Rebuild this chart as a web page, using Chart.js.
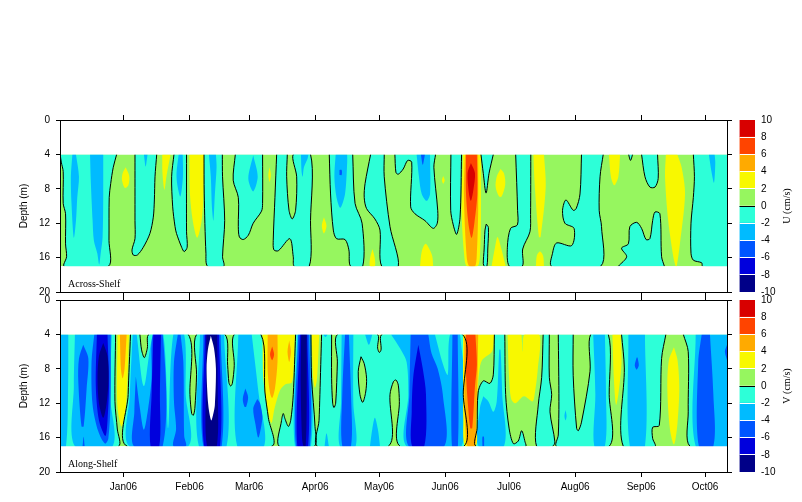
<!DOCTYPE html>
<html>
<head>
<meta charset="utf-8">
<style>
html, body { margin: 0; padding: 0; background: #fff; overflow: hidden; }
canvas { position: absolute; }
</style>
<script src="https://cdn.jsdelivr.net/npm/chart.js@4"></script>
</head>
<body>
<canvas id="acrossChart" style="left:0;top:110px" width="735" height="190"></canvas>
<canvas id="acrossBar" style="left:730px;top:110px" width="72" height="190"></canvas>
<canvas id="alongChart" style="left:0;top:290px" width="735" height="212"></canvas>
<canvas id="alongBar" style="left:730px;top:290px" width="72" height="212"></canvas>
<script>
// x values are days from 1 Jan 2006, y values are depth in m
const monthDays = [0, 31, 59, 90, 120, 151, 181, 212, 243, 273];
const monthLabels = ["Jan06", "Feb06", "Mar06", "Apr06", "May06", "Jun06", "Jul06", "Aug06", "Sep06", "Oct06"];
const depthTicks = [0, 4, 8, 12, 16, 20];
const colorLevels = [-10, -8, -6, -4, -2, 0, 2, 4, 6, 8, 10];
const colorBands = ["#000088", "#0000dd", "#0055ff", "#00bbff", "#2dffd8", "#96f65f", "#f8f800", "#ffaa00", "#ff4400", "#d80000"];
const wholeRecord = [[-29.8, 4], [283.4, 4], [283.4, 17], [-29.8, 17]];
const blankAbove = [[-29.8, 0], [283.4, 0], [283.4, 4], [-29.8, 4]];
const blankBelow = [[-29.8, 17], [283.4, 17], [283.4, 20], [-29.8, 20]];

// Across-Shelf contours
const acrossBelow0 = [
  [[-29.7,4],[-29.2,4.9],[-28.3,6],[-28.3,9.7],[-27.2,10.9],[-27.2,14.4],[-26.7,15.9],[-27.8,17],[-7.1,17],[-6.8,14],[-6.7,9],[-6,7.4],[-4.8,5.5],[-3.2,4]],
  [[5.4,4],[5.4,11.7],[5.4,13.8],[4,15.1],[4.6,15.7],[6.5,15.7],[9.3,14.8],[12.4,13.2],[14,11.3],[14.5,9.3],[14.8,6.6],[15.6,4]],
  [[23.7,4],[22.6,6.6],[23.1,10.1],[24.2,12.4],[24.9,13.2],[27.3,14.8],[28.5,15.3],[29.9,14.8],[29.6,13],[29.6,4]],
  [[37.8,4],[37.9,8.6],[38.7,15.5],[39.5,17],[47,17],[46.5,15.9],[47.5,11.7],[46.5,6.6],[46.4,4]],
  [[52.5,4],[51.5,7],[53.9,9],[53.9,12.4],[54.4,13.6],[56.2,13.9],[58.6,13.4],[60.9,12],[64.8,10.6],[65.3,9.7],[65.3,4]],
  [[71.9,4],[71.1,9],[70.3,14],[70.6,15.1],[72.7,15.2],[78.1,13.8],[79.7,15.9],[80.2,17],[87.2,17],[87.8,11.7],[87.8,4],[79.7,4],[81.3,6.6],[80.8,10.5],[79.2,11.5],[77.7,10.5],[76.6,6.6],[76.9,4]],
  [[96.6,4],[97.2,8.6],[98.5,12.8],[100,13.8],[104,13.9],[105.8,15.1],[106.6,17],[112.3,17],[112,12],[108.7,9.7],[107.6,4]],
  [[116,4],[113.4,7.4],[113,9],[114.1,10.3],[118,11.5],[120.4,12.8],[121.2,17],[129,17],[125.1,12.4],[122.4,6.6],[122.4,4]],
  [[127.4,4],[127.9,6.1],[129,6.3],[131.3,5.7],[133.4,4.7],[135.3,4.9],[134.8,10.1],[136.8,10.9],[141.5,11.7],[145.4,12.6],[147.3,12],[147.5,10.5],[145.7,5.5],[146.5,4]],
  [[153.7,4],[153.6,10.5],[154.8,12.2],[156.4,13.3],[158,11.3],[158.7,4]],
  [[167.8,4],[168.9,6.2],[170.2,8.5],[171.6,6.2],[173.6,4]],
  [[170.3,12.1],[169.7,12.8],[169.3,15],[168.9,16.7],[169.4,17],[170.6,17],[171,15],[171.3,12.5],[170.3,12.1]],
  [[184.1,4],[185,10.5],[184.9,12.2],[181.7,12.6],[180.2,14.8],[181.1,17],[187.2,17],[187.4,15],[190.8,13],[191.1,11],[191.2,4]],
  [[215,4],[214.3,8.6],[212.5,10.3],[211.1,10.5],[207.7,9.3],[206.1,10.5],[207.2,12],[211.5,12.6],[210.4,14.6],[203.3,14.3],[201.4,15.5],[201,17],[224,17],[224.4,12.4],[223.3,10.5],[223.7,6.6],[225.2,4]],
  [[237.1,4],[238,4.7],[239,4]],
  [[243.2,4],[244.8,6.6],[247.1,7.8],[249.5,7.8],[251,6.8],[250.7,4]],
  [[232.3,17],[236.2,15.9],[233.8,14.9],[237,14.4],[237.7,12.4],[240.9,11.9],[243.2,12.6],[245.3,13.9],[247.1,13.8],[248.4,11.7],[249.5,10.7],[251.8,10.9],[252.6,15.9],[253.9,17]],
  [[267.5,4],[268,6.6],[267.5,9],[266.4,12],[266.4,15.5],[267.5,16.3],[271.4,16.6],[271.9,17],[283.4,17],[283.4,4]]
];
const acrossBelow2 = [
  [[-24,4],[-24.7,6.6],[-24.4,9.7],[-23.3,13.7],[-22.3,11.7],[-21.7,9],[-20.9,6.6],[-22.3,4]],
  [[-15.7,4],[-15.3,7.4],[-14.5,11.7],[-13.9,14],[-12.3,15.5],[-11.4,16.8],[-10.7,15.5],[-9.8,13.6],[-9.5,8.6],[-9.5,4]],
  [[9.6,4],[10.4,5.4],[11.3,4]],
  [[25.9,4],[24.9,6.2],[25.3,7.6],[26.7,8.9],[27.9,6.6],[27.8,4]],
  [[40.1,4],[41,6.6],[41.5,10.1],[42.2,11.7],[42.9,8.6],[43.7,5.5],[43.4,4]],
  [[60.9,4.1],[58.6,6.8],[60.9,8.3],[63,6.6],[60.9,4.1]],
  [[83.3,4],[83.6,6],[84.1,6.6],[84.7,5.5],[86.4,4.5],[86.8,4]],
  [[99.6,4],[99,6.6],[100,9],[101.8,10.2],[104,8.6],[105,5],[105,4]],
  [[137.6,4],[138.7,6.6],[140,8.6],[142.3,9.4],[143.9,8.6],[143.9,4]],
  [[274.8,4],[276,6],[277.2,7.3],[277.8,5],[277.5,4]]
];
const acrossBelow4 = [
  [[101.4,5.8],[102.4,5.8],[102.4,6.4],[101.4,6.4]],
  [[139.6,4],[140.5,5.2],[141.5,4]]
];
const acrossAbove2 = [
  [[1,5.5],[-.4,6.2],[-.7,7],[.7,7.9],[2.3,7.6],[2.7,6.5],[1,5.5]],
  [[18.2,4],[18.3,6.2],[19.2,8.1],[20.2,6.5],[22.1,4]],
  [[30.9,4],[31.2,8.6],[32.5,11.7],[34.6,13.7],[36.7,11.7],[37.5,8.6],[37.8,4]],
  [[68.6,5.5],[68,6.4],[68.6,7.2],[69.2,6.4],[68.6,5.5]],
  [[94.1,11.3],[93.1,12.3],[94.1,13.2],[95.3,12.3],[94.1,11.3]],
  [[116.9,15],[115.8,16],[115.7,17],[118,17],[117.9,16],[116.9,15]],
  [[150.1,6.5],[149.5,7],[150.1,7.4],[150.8,7],[150.1,6.5]],
  [[139.2,17],[140,15.3],[141.8,14.4],[144,15.2],[145,15.9],[145.4,17]],
  [[159.4,4],[158.7,10.5],[160,15.9],[161.2,17],[166.2,17],[167.3,15.9],[167.8,11.3],[167.8,4]],
  [[177,5.7],[175.2,6.6],[174.7,7.8],[176.3,8.9],[177.5,8.9],[179.2,7.5],[178.6,6.2],[177,5.7]],
  [[172.8,17],[174.4,14.8],[175.6,13.6],[177.5,15.1],[179.4,17]],
  [[192.4,4],[193.1,7.8],[195,13.6],[195.8,13.6],[198.2,7.8],[197.4,4]],
  [[193.6,17],[194,15.8],[195.5,15.3],[197,15.8],[197.4,17]],
  [[227.9,4],[228.8,6.6],[230.4,7.6],[232.3,6.6],[233.1,4]],
  [[254.6,4],[254.2,6.6],[255.7,11.7],[258.1,15.9],[259.2,17],[259.7,17],[261.2,14.4],[263.6,8.6],[262,5.5],[260,4]]
];
const acrossAbove4 = [
  [[160.3,4],[159.8,8.6],[161.1,15.9],[162.3,17],[165,17],[165.8,15.9],[166.5,10.5],[166.5,4]]
];
const acrossAbove6 = [
  [[160.8,4],[160.8,8.6],[161.9,12],[163.4,13.7],[164.7,12],[166.1,8.6],[165.9,4]]
];
const acrossAbove8 = [
  [[163.1,5],[161.5,6.2],[162.2,8.6],[163.1,9.4],[164.2,8.2],[165,6.2],[163.1,5]]
];

// Along-Shelf contours
const alongBelow0 = [
  [[-29.8,4],[-29.8,17],[-2.4,17],[-2.9,15],[-4,11.8],[-3.7,4]],
  [[3.3,4],[2.2,11],[1.8,17],[69.5,17],[68,13.7],[66.4,10.7],[64.5,4],[52,4],[52,7.6],[51.1,9.7],[50.3,10],[49.5,9.6],[48.9,7.6],[47.6,4],[34.3,4],[34.3,8.7],[33.5,12.6],[32.8,13.4],[32,13.2],[31.2,11],[30.4,4],[12,4],[11.2,5.6],[9.8,6.7],[8.5,5.8],[7.7,4]],
  [[80.8,4],[79.7,11],[78.5,14],[77.4,14.7],[75.8,13.8],[75,13.2],[74.2,14],[73.1,17],[89.6,17],[89.9,14.7],[88.3,9.1],[88,4]],
  [[93,4],[92.2,11],[91.8,14],[91.1,17],[124.3,17],[125.1,11],[126.7,9.5],[127.9,9.3],[129,9.9],[129.5,11.8],[129.8,17],[159.8,17],[159.5,11],[159,4],[121.5,4],[120.9,5.8],[120.1,6.1],[119.3,5.6],[119.1,4],[100.5,4],[100.4,7.2],[99.6,12],[98.8,12.5],[98.2,12],[97.7,9.1],[97.7,4]],
  [[174.1,4],[173.6,8.7],[172,9.7],[168.9,9.4],[166.5,10.7],[166,14.9],[165.5,17],[188.8,17],[188.5,16.5],[186.9,15.2],[185.3,16.4],[183,16.7],[181,14.9],[179.4,11],[179,4]],
  [[197,4],[196.3,9],[194.7,12.2],[193.9,17],[201.4,17],[202.5,16.5],[200.2,13],[201,11],[199.9,9],[199.9,4]],
  [[204.1,4],[204.4,11.8],[204.1,15.7],[203.3,17],[228,17],[228,11],[227.6,4],[219.3,4],[219,8.3],[215,14.2],[213.5,15.2],[212.7,14.9],[211.1,8.8],[211.1,4]],
  [[233.8,4],[235.1,7.9],[234.6,17],[249.5,17],[248.4,16.1],[248.4,14.8],[251.5,14.6],[252.6,6.8],[254.6,4]],
  [[262.8,4],[265.1,6],[265.1,13],[265.9,17],[283.4,17],[283.4,4]]
];
const alongIsland = [
  [[111.5,6.6],[110.2,8.3],[111,11],[112.3,11.9],[113.7,10.7],[114.1,9.1],[113,7.4],[111.5,6.6]]
];
const alongBelow2 = [
  [[-29.8,4],[-29.8,17],[-27,17],[-26,10],[-25.9,4]],
  [[-22.8,4],[-23.3,10],[-22.8,17],[-5.1,17],[-6.4,11],[-5.5,4]],
  [[4.3,4],[3,11],[2.7,17],[30.4,17],[29.2,11],[28.5,4],[23.4,4],[21,14.9],[18.7,4],[14,4],[9.6,10],[6.2,4]],
  [[35.9,4],[35.4,17],[48.4,17],[47.2,4]],
  [[53.9,4],[53.4,17],[66,17],[63.5,11],[60.2,4]],
  [[81.6,4],[80.5,17],[88,17],[88,4]],
  [[93.8,4],[94.8,4.3],[95.8,4]],
  [[94.4,17],[95.3,15.5],[96.4,17]],
  [[102.4,4],[102.1,12],[101.6,17],[109,17],[107.9,12],[107.9,4]],
  [[113.4,4],[115.2,5.2],[116.8,4]],
  [[115.7,17],[116.8,15],[118,13.7],[119.4,15],[120.4,17]],
  [[125.6,4],[129.8,5.6],[132.9,7.2],[133.7,11],[132.9,17],[158.7,17],[158,4],[153.3,4],[152.2,8.7],[150,7.5],[146.2,4]],
  [[168.9,11.2],[167.3,12.6],[166.7,17],[178.6,17],[177.8,11],[177,5.8],[176.4,5.8],[175.2,11.8],[173.6,13],[171.3,11.8],[168.9,11.2]],
  [[207.5,12.8],[207,13.5],[207.5,14],[208,13.5],[207.5,12.8]],
  [[220.5,4],[221.5,11],[221,17],[226,17],[226.5,11],[226,4]],
  [[237,4],[237.7,17],[244.8,17],[244.8,4]],
  [[268.6,4],[268.6,17],[283.4,17],[283.4,4]]
];
const alongBelow4 = [
  [[-18.9,5.2],[-20.9,6.8],[-21.2,9.5],[-19.7,14.7],[-18.7,14.7],[-17.3,10.3],[-16.5,6.8],[-18.9,5.2]],
  [[-19.2,17],[-18.7,15.9],[-18.2,17]],
  [[-13.7,4],[-15,7.2],[-14.5,12.2],[-11.8,15.3],[-8.7,16.7],[-7.1,16.1],[-6,11.2],[-6,4]],
  [[5.8,8.9],[5.1,13],[4.9,17],[18.4,17],[18.4,4],[13.7,4],[13.2,9.1],[11.6,12.6],[9.6,15.1],[7.7,12.6],[5.8,8.9]],
  [[25.5,4],[23.7,7.2],[23.7,11.8],[24.7,15],[23.4,17],[29.3,17],[28.5,15.8],[28.1,7.2],[26.8,4]],
  [[37.5,4],[37.5,17],[46.1,17],[45.6,4]],
  [[57.2,10.3],[56,11.5],[56.8,12.4],[57.6,12.4],[58.5,11.3],[57.2,10.3]],
  [[62.8,11.5],[60.9,12.6],[62,14.5],[63.3,16],[64.8,14.5],[65.2,13.5],[64.1,12],[62.8,11.5]],
  [[82,4],[81,17],[87.5,17],[87.2,4]],
  [[104,4],[102.7,11],[102.7,17],[106.8,17],[106.8,11],[105.8,4]],
  [[134.8,4],[134.2,11],[133.9,17],[150.6,17],[149.9,11],[147.5,8],[144.6,6.2],[143.1,4]],
  [[154.4,4],[154.2,17],[157,17],[156.9,4]],
  [[168.5,17],[168.5,15.9],[169.2,15.9],[169.3,17]],
  [[240.9,6.7],[240,7.6],[240.9,8.1],[241.9,7.6],[241.3,6.7]],
  [[271.4,4],[269.8,7.2],[270.1,17],[276.9,17],[276.9,11],[275.3,4]],
  [[283.3,5.2],[282.3,6],[283.3,7]]
];
const alongBelow6 = [
  [[-12.5,4],[-13,10],[-11.5,14],[-8.5,15.8],[-7.5,14],[-6.8,10],[-7.5,4]],
  [[14,4],[13.2,11],[12.7,17],[16.8,17],[17.1,11],[17.6,4]],
  [[38.2,4],[37.9,17],[45.3,17],[44.8,4]],
  [[82.8,4],[81.6,17],[86.7,17],[86.3,4]],
  [[138.4,5.2],[136,9],[135.3,13],[135.5,17],[141.2,17],[142,11],[140.5,8],[138.4,5.2]]
];
const alongBelow8 = [
  [[-9.5,5],[-11.5,6.5],[-12.2,9],[-11.5,12],[-9.5,13.7],[-7.9,12],[-7,9],[-7.5,6.5],[-9.5,5]],
  [[38.9,4],[38.7,10],[39.2,17],[43.8,17],[44.2,10],[44,4]],
  [[83.4,4],[83.2,10],[83.8,16],[84.5,17],[85.5,17],[86,12],[86,4]]
];
const alongBelow10 = [
  [[41,4.15],[39.6,5.8],[39,8],[39.8,12.2],[41.2,14],[42.2,13.2],[42.9,12.2],[43.4,8],[42.5,5.6],[41,4.15]]
];
const alongAbove2 = [
  [[-2.8,4],[-2.9,12.2],[-.9,14.7],[1.2,12.2],[2.6,4]],
  [[65.3,4],[65.6,9],[67.2,12],[69.4,14.3],[71,12.5],[73.5,10.5],[76,9.8],[79,9.6],[80,7],[80.4,4]],
  [[88.4,4],[89,9],[89.9,10.2],[90.9,9],[91.9,4]],
  [[159.4,4],[159.5,14],[160.3,17],[165.5,17],[165.7,14],[166.4,10],[167,8.3],[168.3,7],[173,6],[174,4]],
  [[180.3,4],[181,9],[182,11.5],[184,12],[188,11.2],[192,11.8],[193,11],[194.5,8],[195.2,4],[188.2,4],[187.5,6],[186.8,4]],
  [[229.5,4],[230.2,9.1],[231.2,12.2],[232.3,11],[233.8,7.2],[233.4,4]],
  [[258.4,5.5],[256,7],[255.3,10.3],[256.5,15],[258.4,16.8],[260,14.5],[260.9,10.3],[260.1,7],[258.4,5.5]]
];
const alongAbove4 = [
  [[-1.7,4],[-1.2,8],[-.4,9.1],[.5,8],[1.5,4]],
  [[67.7,4],[67.7,8.3],[68.7,10.7],[69.8,11.4],[71.1,10.3],[72.3,7.2],[72.3,4]],
  [[77.8,4.7],[77,6],[77.8,7.2],[78.6,6],[77.8,4.7]],
  [[160,4],[160,11],[160.5,15],[161.5,17],[165,17],[165.5,14],[166.2,9],[166.5,4]]
];
const alongAbove6 = [
  [[69.8,5.4],[68.8,6.3],[69.8,7],[70.7,6.3],[69.8,5.4]],
  [[160.8,4],[160.8,8.5],[161.8,12.5],[162.8,14.9],[163.7,14.9],[165,10],[165.9,7.5],[165.2,4]]
];

const toPoints = poly => poly.map(p => ({ x: p[0], y: p[1] }));
const curve = 0.3;

function fillSet(poly, color, tension) {
  return { data: toPoints(poly), showLine: true, fill: 'shape', backgroundColor: color, borderWidth: 0, pointRadius: 0, tension: tension };
}

// zero contour, no line along the top and bottom of the data block
function contourSet(poly) {
  return {
    data: toPoints(poly), showLine: true, fill: false, borderColor: '#000', borderWidth: 1, pointRadius: 0, tension: curve,
    segment: {
      borderColor: ctx => {
        const a = ctx.p0.parsed, b = ctx.p1.parsed;
        const onEdge = a.y === b.y && (a.y === 4 || a.y === 17);
        const onSide = a.x === b.x && (a.x <= -29.8 || a.x >= 283.4);
        return onEdge || onSide ? 'transparent' : '#000';
      }
    }
  };
}

function buildDatasets(layers, contours) {
  const sets = [fillSet(wholeRecord, colorBands[5], 0)];
  layers.forEach(l => l[0].forEach(poly => sets.push(fillSet(poly, l[1], curve))));
  contours.forEach(poly => sets.push(contourSet(poly)));
  sets.push(fillSet(blankAbove, '#fff', 0), fillSet(blankBelow, '#fff', 0));
  // later layers go on top
  sets.forEach((s, i) => { s.order = sets.length - i; });
  return sets;
}

const panelLabel = {
  id: 'panelLabel',
  afterDraw(chart, args, opts) {
    const c = chart.ctx;
    c.save();
    c.font = '10px "Liberation Serif"';
    c.fillStyle = '#000';
    c.textBaseline = 'middle';
    c.fillText(opts.text, chart.chartArea.left + 8, chart.chartArea.bottom - 8);
    c.restore();
  }
};

// colour bar title reads upward, axis title on the right would read downward
const barTitle = {
  id: 'barTitle',
  afterDraw(chart, args, opts) {
    const c = chart.ctx;
    c.save();
    c.translate(57, (chart.chartArea.top + chart.chartArea.bottom) / 2);
    c.rotate(-Math.PI / 2);
    c.font = '10px "Liberation Serif"';
    c.fillStyle = '#000';
    c.textAlign = 'center';
    c.textBaseline = 'middle';
    c.fillText(opts.text, 0, 0);
    c.restore();
  }
};

// scales ask for room around their first and last labels, the layout here is fixed
function dropPadding(s) {
  s.paddingTop = s.paddingBottom = s.paddingLeft = s.paddingRight = 0;
}

function panel(id, layers, contours, name, showDates, bottomSpace) {
  const sansFont = { family: '"Liberation Sans"', size: 10 };
  const monthAxis = (position, showLabels, size) => ({
    type: 'linear', position: position, min: -29.8, max: 283.3,
    afterBuildTicks: s => { s.ticks = monthDays.map(d => ({ value: d })); },
    afterFit: s => { s.height = size; dropPadding(s); },
    border: { color: '#000', z: 1 },
    grid: { drawOnChartArea: false, color: '#000', tickLength: 5 },
    ticks: {
      display: showLabels, autoSkip: false, maxRotation: 0, padding: 4, color: '#000', font: sansFont,
      callback: v => monthLabels[monthDays.indexOf(v)]
    }
  });
  const depthAxis = (position, showLabels, size, tick) => ({
    type: 'linear', position: position, reverse: true, min: 0, max: 20,
    afterBuildTicks: s => { s.ticks = depthTicks.map(d => ({ value: d })); },
    afterFit: s => { s.width = size; dropPadding(s); },
    border: { color: '#000', z: 1 },
    grid: { drawOnChartArea: false, color: '#000', tickLength: tick },
    ticks: { display: showLabels, padding: 6, color: '#000', font: sansFont }
  });
  const left = depthAxis('left', true, 60, 4);
  left.title = { display: true, text: 'Depth (m)', color: '#000', font: sansFont, padding: { top: 18, bottom: 0 } };
  return new Chart(document.getElementById(id), {
    type: 'scatter',
    data: { datasets: buildDatasets(layers, contours) },
    plugins: [panelLabel],
    options: {
      responsive: false, animation: false, events: [],
      layout: { padding: 0, autoPadding: false },
      plugins: { legend: { display: false }, tooltip: { enabled: false }, panelLabel: { text: name } },
      scales: {
        x: monthAxis('bottom', showDates, bottomSpace),
        xTop: monthAxis('top', false, 10),
        y: left,
        yRight: depthAxis('right', false, 8, 5)
      }
    }
  });
}

function colorBar(id, title, bottomSpace) {
  const bands = colorBands.map((c, i) => ({
    data: [[colorLevels[i], colorLevels[i + 1]]], backgroundColor: c, borderWidth: 0,
    barPercentage: 1, categoryPercentage: 1, grouped: false
  }));
  return new Chart(document.getElementById(id), {
    type: 'bar',
    data: { labels: [''], datasets: bands },
    plugins: [barTitle],
    options: {
      responsive: false, animation: false, events: [],
      layout: { padding: { left: 9.5, top: 10, bottom: bottomSpace }, autoPadding: false },
      plugins: { legend: { display: false }, tooltip: { enabled: false }, barTitle: { text: title } },
      scales: {
        x: { display: false },
        y: {
          position: 'right', min: -10, max: 10,
          afterBuildTicks: s => { s.ticks = colorLevels.map(v => ({ value: v })); },
          afterFit: s => { s.width = 47; dropPadding(s); },
          border: { display: false },
          grid: {
            z: 1, drawTicks: false,
            color: c => c.tick.value === 0 ? '#000' : (Math.abs(c.tick.value) === 10 ? 'transparent' : '#fff')
          },
          ticks: { padding: 6, color: '#000', font: { family: '"Liberation Sans"', size: 10 } }
        }
      }
    }
  });
}

panel('acrossChart', [
  [acrossBelow0, colorBands[4]], [acrossBelow2, colorBands[3]], [acrossBelow4, colorBands[2]],
  [acrossAbove2, colorBands[6]], [acrossAbove4, colorBands[7]], [acrossAbove6, colorBands[8]], [acrossAbove8, colorBands[9]]
], acrossBelow0, 'Across-Shelf', false, 8);

panel('alongChart', [
  [alongBelow0, colorBands[4]], [alongIsland, colorBands[5]], [alongBelow2, colorBands[3]], [alongBelow4, colorBands[2]],
  [alongBelow6, colorBands[1]], [alongBelow8, colorBands[0]], [alongBelow10, '#ffffff'],
  [alongAbove2, colorBands[6]], [alongAbove4, colorBands[7]], [alongAbove6, colorBands[8]]
], alongBelow0.concat(alongIsland), 'Along-Shelf', true, 30);

colorBar('acrossBar', 'U (cm/s)', 8);
colorBar('alongBar', 'V (cm/s)', 30);
</script>
</body>
</html>
